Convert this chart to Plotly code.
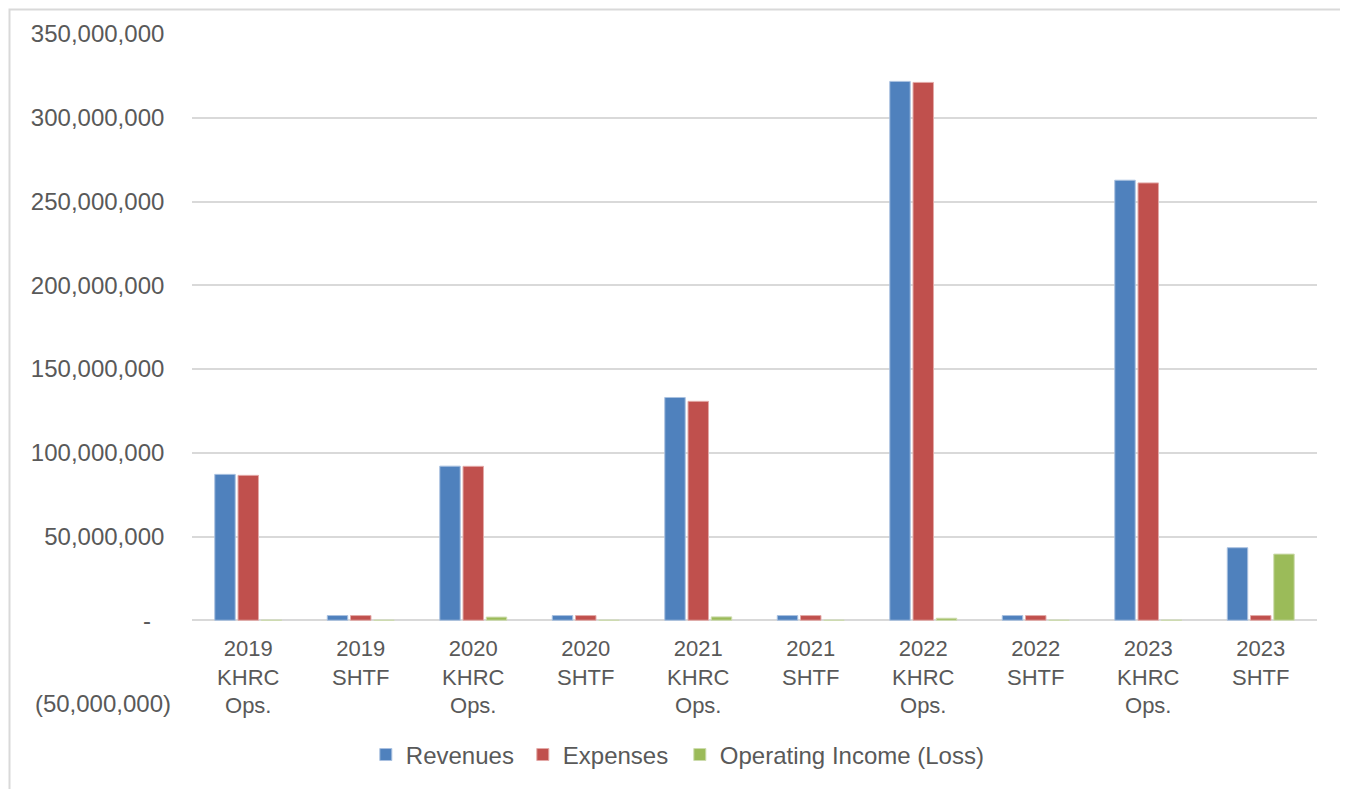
import plotly.graph_objects as go

categories = ["2019<br>KHRC<br>Ops.", "2019<br>SHTF", "2020<br>KHRC<br>Ops.", "2020<br>SHTF",
              "2021<br>KHRC<br>Ops.", "2021<br>SHTF", "2022<br>KHRC<br>Ops.", "2022<br>SHTF",
              "2023<br>KHRC<br>Ops.", "2023<br>SHTF"]
revenues = [87_100_000, 2_800_000, 92_000_000, 2_800_000, 133_000_000, 2_800_000,
            321_700_000, 2_800_000, 262_700_000, 43_300_000]
expenses = [86_500_000, 2_800_000, 91_900_000, 2_800_000, 130_700_000, 2_800_000,
            321_100_000, 2_800_000, 261_100_000, 2_800_000]
operating_income = [0, 0, 1_900_000, 0, 2_000_000, 0, 1_200_000, 0, 0, 39_500_000]

y_tickvals = [-50_000_000, 0, 50_000_000, 100_000_000, 150_000_000, 200_000_000,
              250_000_000, 300_000_000, 350_000_000]
y_ticktext = ["(50,000,000)", "-\u00a0\u00a0\u00a0", "50,000,000\u00a0", "100,000,000\u00a0",
              "150,000,000\u00a0", "200,000,000\u00a0", "250,000,000\u00a0",
              "300,000,000\u00a0", "350,000,000\u00a0"]

FONT = "Liberation Sans, Arial, sans-serif"
TXT = "#595959"
GRID = "#d9d9d9"

L, T, PW, PH = 184, 26, 1125, 670

fig = go.Figure()
fig.add_trace(go.Bar(name="Revenues", x=categories, y=revenues, legendwidth=112,
                     marker=dict(color="#4F81BD", line=dict(color="#a9c1e0", width=1))))
fig.add_trace(go.Bar(name="Expenses", x=categories, y=expenses, legendwidth=112,
                     marker=dict(color="#C0504D", line=dict(color="#e3a9a7", width=1))))
fig.add_trace(go.Bar(name="Operating Income (Loss)", x=categories, y=operating_income,
                     marker=dict(color="#9BBB59", line=dict(color="#cddcae", width=1))))

fig.update_layout(
    width=1348, height=789,
    margin=dict(l=L, r=1348 - L - PW, t=T, b=789 - T - PH),
    paper_bgcolor="white", plot_bgcolor="white",
    barmode="group", bargap=0.38, bargroupgap=0.12,
    font=dict(family=FONT, color=TXT, size=24),
    showlegend=True,
    legend=dict(orientation="h", x=0.1545, xanchor="left", y=-0.076, yanchor="middle",
                font=dict(size=24, color=TXT), itemclick=False, traceorder="normal"),
    xaxis=dict(anchor="free", position=(84 / 670), showline=False, ticks="",
               tickfont=dict(size=22, color=TXT), showgrid=False, zeroline=False,
               tickangle=0, ticklabelstandoff=13),
    yaxis=dict(range=[-50_000_000, 350_000_000], tickvals=y_tickvals, ticktext=y_ticktext,
               showgrid=True, gridcolor=GRID, gridwidth=2, zeroline=True,
               zerolinecolor=GRID, zerolinewidth=2, showline=False, ticks="",
               tickfont=dict(size=24, color=TXT), ticklabelstandoff=20),
    shapes=[dict(type="rect", xref="paper", yref="paper",
                 x0=(1.5 - L) / PW, x1=(1337 - L) / PW,
                 y0=-(789 - T - PH + 20) / PH, y1=1 + (T - 1.5) / PH,
                 line=dict(color=GRID, width=2), fillcolor="rgba(0,0,0,0)", layer="below")],
)

fig.write_html("out.html")
